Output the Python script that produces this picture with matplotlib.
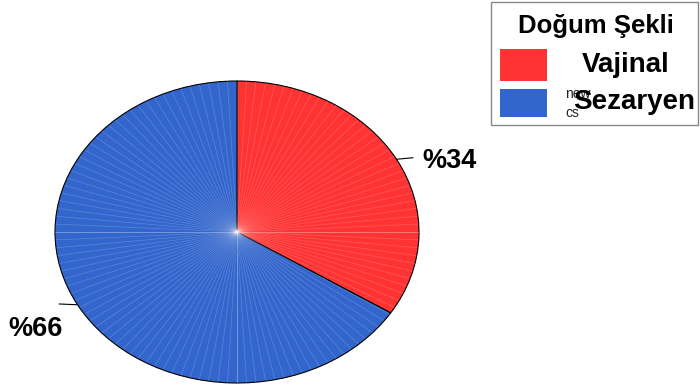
import numpy as np
import matplotlib.pyplot as plt
from matplotlib.patches import Rectangle

# Doğum şekli dağılımı
categories = ['Vajinal', 'Sezaryen']
percentages = [34, 66]
pct_labels = ['%34', '%66']
colors = ['#ff3333', '#3366cc']
legend_title = 'Doğum Şekli'

plt.rcParams['font.family'] = ['Liberation Sans', 'DejaVu Sans']

W, H = 700, 388
fig = plt.figure(figsize=(W / 100, H / 100), dpi=100)

# pie axes: ellipse centred at (237, 232) px, radii 182 x 151
cx, cy, rx, ry = 237, 232, 182, 151
ax = fig.add_axes([(cx - rx) / W, (H - cy - ry) / H, 2 * rx / W, 2 * ry / H])
wedges, _ = ax.pie(percentages, colors=colors, startangle=90, counterclock=False,
                   wedgeprops=dict(edgecolor='black', linewidth=0.8))
ax.set_aspect('auto')
ax.set_xlim(-1, 1)
ax.set_ylim(-1, 1)

# faint white radial streaks across the fill
for a in np.linspace(0, 2 * np.pi, 120, endpoint=False):
    ax.plot([0, np.cos(a) * 0.995], [0, np.sin(a) * 0.995],
            color='white', lw=0.5, alpha=0.2, zorder=1.5)
ax.plot([-1, 1], [0, 0], color='white', lw=0.6, alpha=0.25, zorder=1.5)
ax.plot([0, 0], [-1, 0], color='white', lw=0.6, alpha=0.25, zorder=1.5)

# percentage labels with short leader lines
start = 90.0
for w, lab, p in zip(wedges, pct_labels, percentages):
    mid = np.deg2rad(start - p * 3.6 / 2)
    start -= p * 3.6
    x0, y0 = np.cos(mid), np.sin(mid)
    if x0 > 0:
        ax.plot([x0, x0 + 0.09], [y0, y0 + 0.01], color='black', lw=0.8, clip_on=False)
        ax.text(x0 + 0.14, y0 - 0.01, lab, ha='left', va='center', fontsize=19.5,
                fontweight='bold', clip_on=False)
    else:
        ax.plot([x0 - 0.1, x0], [y0 + 0.005, y0], color='black', lw=0.8, clip_on=False)
        ax.text(x0 - 0.38, y0 - 0.16, lab, ha='left', va='center', fontsize=19.5,
                fontweight='bold', clip_on=False)

# legend drawn in pixel coordinates
lax = fig.add_axes([0, 0, 1, 1], facecolor='none')
lax.set_xlim(0, W)
lax.set_ylim(H, 0)
lax.axis('off')
lax.add_patch(Rectangle((491, 2), 207, 123, fill=False, edgecolor='#888888', lw=1))
lax.text(518, 26, legend_title, ha='left', va='center', fontsize=18.5, fontweight='bold')
lax.text(565, 94, 'new', ha='left', va='center', fontsize=10, color='#222222')
lax.text(565, 113, 'cs', ha='left', va='center', fontsize=10, color='#222222')
text_x = [582, 573]
for i, (cat, col) in enumerate(zip(categories, colors)):
    y = 49 + i * 40
    lax.add_patch(Rectangle((500, y), 47, 32 - i * 4, facecolor=col, edgecolor='none'))
    lax.text(text_x[i], y + 16 - i * 3, cat, ha='left', va='center', fontsize=20,
             fontweight='bold')

fig.savefig('out.png', dpi=100)
